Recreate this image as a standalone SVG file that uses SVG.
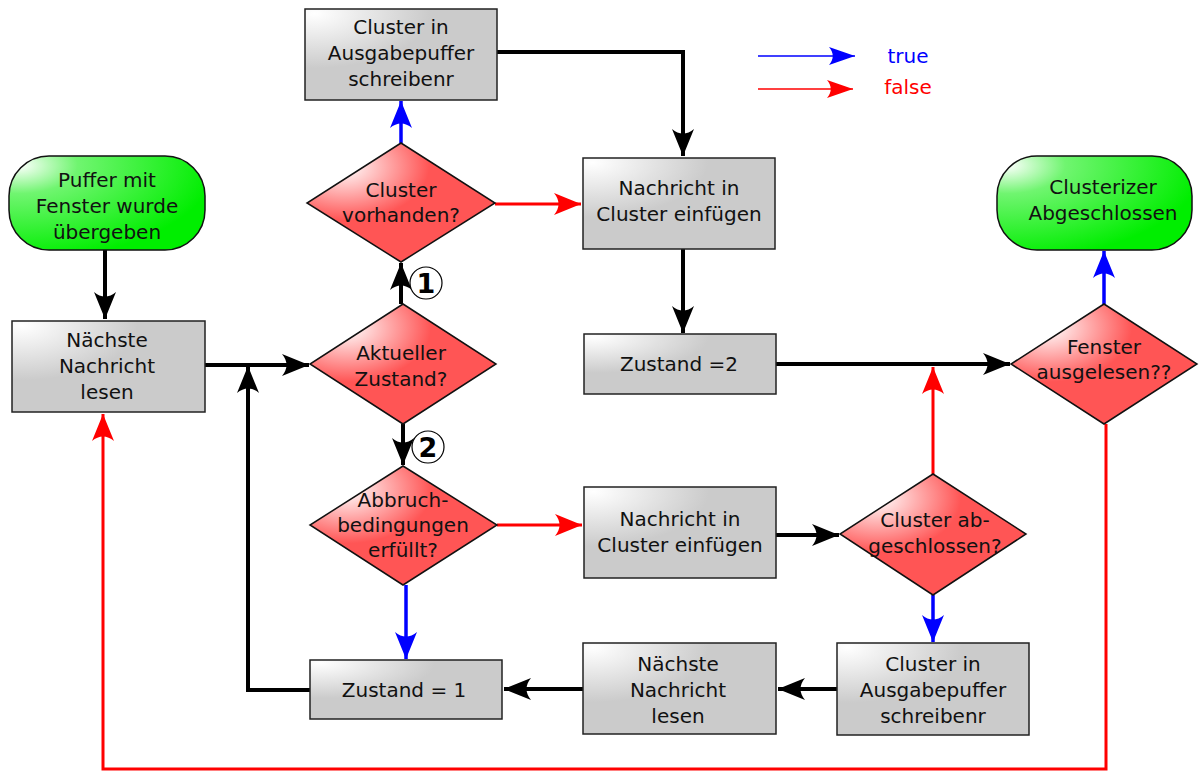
<svg xmlns="http://www.w3.org/2000/svg" width="1202" height="771" viewBox="0 0 1202 771">
<style>
text{font-family:"DejaVu Sans","Liberation Sans",sans-serif;font-size:20px;fill:#111;text-anchor:middle}
.box{fill:url(#gGray);stroke:#222;stroke-width:1.5}
.dia{fill:url(#gRed);stroke:#111;stroke-width:1.5}
.term{fill:url(#gGreen);stroke:#111;stroke-width:1.5}
.k{fill:none;stroke:#000;stroke-width:4;marker-end:url(#aK)}
.r{fill:none;stroke:#f00;stroke-width:3;marker-end:url(#aR)}
.b{fill:none;stroke:#00f;stroke-width:3.5;marker-end:url(#aB)}
.num{font-weight:bold;font-size:27px;fill:#000}
</style>
<defs>
<radialGradient id="gGray" cx="0.05" cy="0.05" r="0.6">
<stop offset="0" stop-color="#fff"/><stop offset="1" stop-color="#cbcbcb"/>
</radialGradient>
<radialGradient id="gRed" cx="0.2" cy="0.2" r="0.45">
<stop offset="0" stop-color="#fff"/><stop offset="1" stop-color="#ff5555"/>
</radialGradient>
<radialGradient id="gGreen" cx="0.05" cy="0.1" r="1">
<stop offset="0" stop-color="#fff"/><stop offset="0.3" stop-color="#70f570"/><stop offset="1" stop-color="#00ee00"/>
</radialGradient>
<marker id="aK" markerUnits="userSpaceOnUse" viewBox="-30 -12 32 24" refX="0" refY="0" markerWidth="32" markerHeight="24" orient="auto" overflow="visible">
<path d="M0,0 L-27,-11 C-21,-4 -21,4 -27,11 Z" fill="#000"/>
</marker>
<marker id="aR" markerUnits="userSpaceOnUse" viewBox="-30 -12 32 24" refX="0" refY="0" markerWidth="32" markerHeight="24" orient="auto" overflow="visible">
<path d="M0,0 L-27,-11 C-21,-4 -21,4 -27,11 Z" fill="#f00"/>
</marker>
<marker id="aB" markerUnits="userSpaceOnUse" viewBox="-30 -12 32 24" refX="0" refY="0" markerWidth="32" markerHeight="24" orient="auto" overflow="visible">
<path d="M0,0 L-27,-11 C-21,-4 -21,4 -27,11 Z" fill="#00f"/>
</marker>
<marker id="aRs" markerUnits="userSpaceOnUse" viewBox="-30 -12 32 24" refX="0" refY="0" markerWidth="32" markerHeight="24" orient="auto" overflow="visible">
<path d="M0,0 L-26,-9 C-21,-3 -21,3 -26,9 Z" fill="#f00"/>
</marker>
<marker id="aBs" markerUnits="userSpaceOnUse" viewBox="-30 -12 32 24" refX="0" refY="0" markerWidth="32" markerHeight="24" orient="auto" overflow="visible">
<path d="M0,0 L-26,-9 C-21,-3 -21,3 -26,9 Z" fill="#00f"/>
</marker>
</defs>
<rect width="1202" height="771" fill="#fff"/>

<g id="connectors">
<path class="k" d="M497,52 H683 V156"/>
<path class="b" d="M401,143 V101"/>
<path class="r" d="M495,204 H581"/>
<path class="k" d="M401,304 V263"/>
<path class="k" d="M105,250 V319"/>
<path class="k" d="M205,365 H309"/>
<path class="k" d="M310,690 H248 V366"/>
<path class="k" d="M403,424 V465"/>
<path class="k" d="M683,249 V333"/>
<path class="k" d="M776,364 H1010"/>
<path class="r" d="M933,474 V367"/>
<path class="b" d="M1104,304 V251"/>
<path class="r" d="M1106,424 V769 H103 V414"/>
<path class="r" d="M497,525 H582"/>
<path class="b" d="M406,585 V659"/>
<path class="k" d="M776,535 H839"/>
<path class="b" d="M933,595 V642"/>
<path class="k" d="M837,689 H778"/>
<path class="k" d="M583,689 H504"/>
</g>

<g id="legend">
<path d="M758,56 H855" stroke="#00f" stroke-width="1.5" fill="none" marker-end="url(#aBs)"/>
<text x="908" y="63" style="fill:#00f">true</text>
<path d="M758,89 H853" stroke="#f00" stroke-width="1.5" fill="none" marker-end="url(#aRs)"/>
<text x="908" y="94" style="fill:#f00">false</text>
</g>

<g id="n1">
<circle cx="426" cy="283" r="16" fill="#fff" stroke="#000" stroke-width="1.2"/>
<text class="num" x="426" y="293">1</text>
</g>
<g id="n2">
<circle cx="428" cy="447" r="16" fill="#fff" stroke="#000" stroke-width="1.2"/>
<text class="num" x="428" y="457">2</text>
</g>

<g id="box-top">
<rect class="box" x="305" y="9" width="192" height="91"/>
<text x="401" y="34">Cluster in</text>
<text x="401" y="60">Ausgabepuffer</text>
<text x="401" y="86">schreibenr</text>
</g>
<g id="dia-vorhanden">
<polygon class="dia" points="401,143 495,203 401,262 307,203"/>
<text x="401" y="197">Cluster</text>
<text x="401" y="222">vorhanden?</text>
</g>
<g id="box-einfuegen1">
<rect class="box" x="583" y="158" width="192" height="91"/>
<text x="679" y="195">Nachricht in</text>
<text x="679" y="221">Cluster einfügen</text>
</g>
<g id="start">
<rect class="term" x="9" y="156" width="196" height="94" rx="40" ry="40"/>
<text x="107" y="187">Puffer mit</text>
<text x="107" y="213">Fenster wurde</text>
<text x="107" y="239">übergeben</text>
</g>
<g id="box-lesen1">
<rect class="box" x="12" y="321" width="193" height="91"/>
<text x="107" y="347">Nächste</text>
<text x="107" y="373">Nachricht</text>
<text x="107" y="399">lesen</text>
</g>
<g id="dia-zustand">
<polygon class="dia" points="403,304 496,364 403,424 310,364"/>
<text x="401" y="360">Aktueller</text>
<text x="401" y="386">Zustand?</text>
</g>
<g id="box-zustand2">
<rect class="box" x="584" y="334" width="192" height="60"/>
<text x="679" y="371">Zustand =2</text>
</g>
<g id="dia-fenster">
<polygon class="dia" points="1104,304 1197,364 1104,424 1011,364"/>
<text x="1104" y="354">Fenster</text>
<text x="1104" y="379">ausgelesen??</text>
</g>
<g id="end">
<rect class="term" x="997" y="156" width="195" height="94" rx="40" ry="40"/>
<text x="1103" y="194">Clusterizer</text>
<text x="1103" y="220">Abgeschlossen</text>
</g>
<g id="dia-abbruch">
<polygon class="dia" points="403,466 497,525 403,585 310,525"/>
<text x="403" y="507">Abbruch-</text>
<text x="403" y="532">bedingungen</text>
<text x="403" y="557">erfüllt?</text>
</g>
<g id="box-einfuegen2">
<rect class="box" x="584" y="487" width="192" height="91"/>
<text x="680" y="526">Nachricht in</text>
<text x="680" y="552">Cluster einfügen</text>
</g>
<g id="dia-abgeschlossen">
<polygon class="dia" points="933,474 1026,534 933,595 840,534"/>
<text x="935" y="527">Cluster ab-</text>
<text x="935" y="553">geschlossen?</text>
</g>
<g id="box-ausgabe2">
<rect class="box" x="837" y="643" width="192" height="92"/>
<text x="933" y="671">Cluster in</text>
<text x="933" y="697">Ausgabepuffer</text>
<text x="933" y="723">schreibenr</text>
</g>
<g id="box-lesen2">
<rect class="box" x="583" y="643" width="193" height="91"/>
<text x="678" y="671">Nächste</text>
<text x="678" y="697">Nachricht</text>
<text x="678" y="723">lesen</text>
</g>
<g id="box-zustand1">
<rect class="box" x="310" y="660" width="192" height="59"/>
<text x="404" y="697">Zustand = 1</text>
</g>
</svg>
